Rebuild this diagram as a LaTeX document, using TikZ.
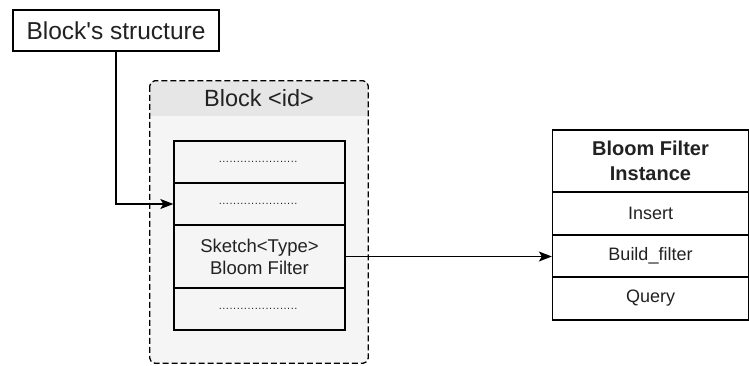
\documentclass[tikz,border=0pt]{standalone}
\usepackage{fontspec}
\setmainfont{Liberation Sans}
\usetikzlibrary{arrows.meta}
\definecolor{hdrgray}{HTML}{E6E6E6}
\definecolor{bodygray}{HTML}{F5F5F5}
\definecolor{txt}{HTML}{222222}
\newcommand{\dotrow}{\fontsize{11}{12}\selectfont\makebox[82pt]{\leaders\hbox to 3.6pt{\hss.\hss}\hfill}}
\tikzset{
  box/.style={draw, line width=1.3pt, inner sep=0pt, align=center, text=txt},
  row/.style={box, fill=bodygray, minimum width=171pt},
  cell/.style={box, fill=white, minimum width=196pt},
  arr/.style={line width=1.3pt, -{Stealth[length=13pt,width=10pt,inset=3pt]}}
}
\begin{document}
\begin{tikzpicture}[x=1pt,y=-1pt]
  \useasboundingbox (0,0) rectangle (749,365);
  % structure label
  \node[box, fill=white, minimum width=206pt, minimum height=41pt, font=\fontsize{24.5}{26}\selectfont] (bs) at (116,30.5) {Block\textquotesingle s structure};
  % the block
  \node[fill=bodygray, rounded corners=5pt, minimum width=218pt, minimum height=282pt, inner sep=0pt] (blk) at (259,222) {};
  \begin{scope}
    \clip[rounded corners=5pt] (blk.north west) rectangle (blk.south east);
    \fill[hdrgray] (blk.north west) rectangle ([yshift=-35pt]blk.north east);
  \end{scope}
  \draw[dash pattern=on 6pt off 3pt, line width=1.3pt, rounded corners=5pt] (blk.north west) rectangle (blk.south east);
  \node[text=txt, font=\fontsize{23.5}{25}\selectfont] (hdr) at (259,98.5) {Block <id>};
  % rows of the block
  \node[row, minimum height=42pt] (r1) at (259.5,162) {\dotrow};
  \node[row, minimum height=42pt] (r2) at (259.5,204) {\dotrow};
  \node[row, minimum height=63pt, font=\fontsize{18.5}{22}\selectfont] (r3) at (259.5,256.5) {Sketch<Type>\\Bloom Filter};
  \node[row, minimum height=42pt] (r4) at (259.5,309) {\dotrow};
  % bloom filter instance
  \node[cell, minimum height=62pt, font=\bfseries\fontsize{20}{25}\selectfont] (bf) at (650.5,161) {Bloom Filter\\Instance};
  \node[cell, minimum height=43pt, font=\fontsize{18}{20}\selectfont] (ins) at (650.5,213.5) {Insert};
  \node[cell, minimum height=42pt, font=\fontsize{18}{20}\selectfont] (bld) at (650.5,256) {Build\_filter};
  \node[cell, minimum height=43pt, font=\fontsize{18}{20}\selectfont] (qry) at (650.5,298.5) {Query};
  % connectors
  \draw[arr] (bs.south) |- (r2.west);
  \draw[arr] (r3.east) -- (r3.east -| bld.west);
\end{tikzpicture}
\end{document}
